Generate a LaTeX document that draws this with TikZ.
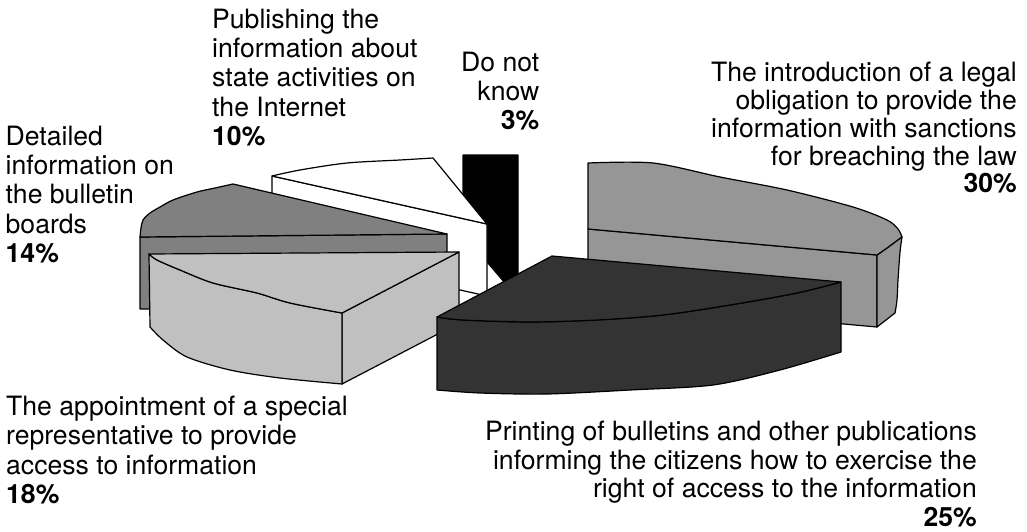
\documentclass[tikz,border=0pt]{standalone}
\usepackage{fontspec}
\setmainfont{TeX Gyre Heros}
\newcommand\chartfont{\fontsize{26.6}{29.2}\selectfont}

\definecolor{sliceA}{HTML}{969696}% 30%
\definecolor{sliceB}{HTML}{333333}% 25%
\definecolor{sliceC}{HTML}{C0C0C0}% 18%
\definecolor{sliceD}{HTML}{808080}% 14%

\tikzset{
  face/.style={draw=black, line width=1.2pt, line join=round},
  lbl/.style={inner sep=0pt, font=\chartfont}
}

\begin{document}
\begin{tikzpicture}[x=1pt,y=-1pt]
\useasboundingbox (0,0) rectangle (1027,532);

% --- 3% slice (black) ---
\filldraw[face, fill=black]
  (463,155) -- (518,155) -- (518,310) -- (505,283) -- (487,262)
  -- (487,230) -- (463,230) -- cycle;

% --- 10% slice (white) ---
\filldraw[face, fill=white]
  (272,176) -- (487,224) -- (487,296) -- (272,248) -- cycle;
\filldraw[face, fill=white]
  (272,176) -- plot[smooth] coordinates {(272,176) (300,170) (347,163) (400,160) (433,158)}
  -- (487,224) -- cycle;

% --- 30% slice ---
\filldraw[face, fill=sliceA]
  (588,229) -- (877,255) -- (877,327) -- (588,301) -- cycle;
\filldraw[face, fill=sliceA]
  (877,255) -- plot[smooth] coordinates {(877,255) (887,248) (895,242) (902,237)}
  -- plot[smooth] coordinates {(902,237) (900,252) (898,280) (897,300) (895,313)}
  -- (877,327) -- cycle;
\filldraw[face, fill=sliceA]
  (588,163) -- plot[smooth] coordinates {(588,163) (653,163) (720,177) (787,190) (853,207) (887,220) (898,229) (902,237)}
  -- plot[smooth] coordinates {(902,237) (895,242) (887,248) (877,255)}
  -- (588,229) -- cycle;

% --- 14% slice ---
\filldraw[face, fill=sliceD]
  (140,237) -- (447,234) -- (447,306) -- (140,309) -- cycle;
\filldraw[face, fill=sliceD]
  (140,237) -- plot[smooth] coordinates {(140,237) (141,228) (143,220) (150,213) (160,207) (173,200) (197,192) (215,188) (233,184)}
  -- (447,234) -- cycle;

% --- 18% slice ---
\filldraw[face, fill=sliceC]
  (342,313) -- (459,252) -- (459,323) -- (342,384) -- cycle;
\filldraw[face, fill=sliceC]
  (149,254) -- plot[smooth] coordinates {(149,254) (157,260) (180,270) (213,283) (257,293) (290,303) (342,313)}
  -- (342,384)
  -- plot[smooth] coordinates {(342,384) (280,378) (230,370) (187,357) (163,340) (150,327)}
  -- cycle;
\filldraw[face, fill=sliceC]
  (149,254) -- (459,252) -- (342,313)
  -- plot[smooth] coordinates {(342,313) (290,303) (257,293) (213,283) (180,270) (157,260) (149,254)}
  -- cycle;

% --- 25% slice ---
\filldraw[face, fill=sliceB]
  (437,317) -- plot[smooth] coordinates {(437,317) (463,320) (530,322) (597,320) (663,315) (730,305) (797,293) (841,282)}
  -- (841,352)
  -- plot[smooth] coordinates {(841,352) (780,370) (713,385) (630,390) (547,394) (480,393) (437,390)}
  -- cycle;
\filldraw[face, fill=sliceB]
  (437,317) -- (552,256) -- (841,282)
  -- plot[smooth] coordinates {(841,282) (797,293) (730,305) (663,315) (597,320) (530,322) (463,320) (437,317)}
  -- cycle;

% --- labels ---
\node[lbl, anchor=north west, align=left] (pub) at (212,9)
  {Publishing the\\information about\\state activities on\\the Internet\\\textbf{10\%}};
\node[lbl, anchor=north west, align=left] (det) at (5.5,126)
  {Detailed\\information on\\the bulletin\\boards\\\textbf{14\%}};
\node[lbl, anchor=north east, align=right] (dnk) at (539.5,52)
  {Do not\\know\\\textbf{3\%}};
\node[lbl, anchor=north east, align=right, font=\fontsize{26.6}{27.8}\selectfont] (leg) at (1017,62)
  {The introduction of a legal\\obligation to provide the\\information with sanctions\\for breaching the law\\\textbf{30\%}};
\node[lbl, anchor=north west, align=left] (app) at (6,396)
  {The appointment of a special\\representative to provide\\access to information\\\textbf{18\%}};
\node[lbl, anchor=north east, align=right, font=\fontsize{26.6}{28.6}\selectfont] (prt) at (977,421)
  {Printing of bulletins and other publications\\informing the citizens how to exercise the\\right of access to the information\\\textbf{25\%}};
\end{tikzpicture}
\end{document}
